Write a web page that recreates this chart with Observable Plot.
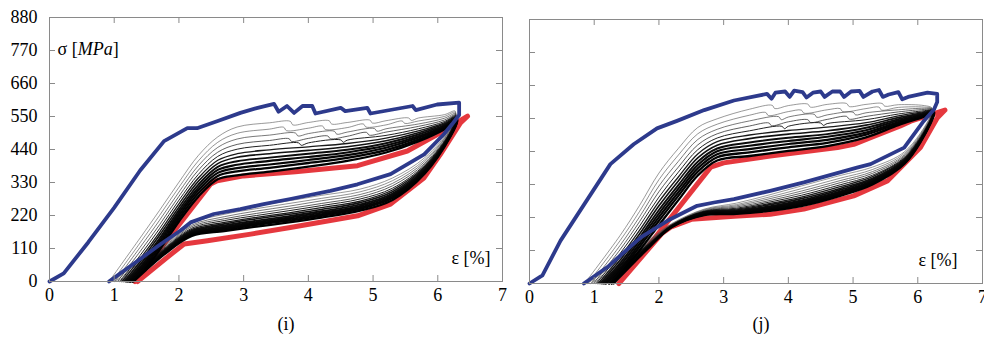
<!DOCTYPE html>
<html>
<head>
<meta charset="utf-8">
<script src="https://cdn.jsdelivr.net/npm/d3@7"></script>
<script src="https://cdn.jsdelivr.net/npm/@observablehq/plot@0.6"></script>
<style>
  body { margin: 0; background: #fff; }
  #wrap { position: relative; width: 984px; height: 349px; font-family: "Liberation Serif", Tinos, "Times New Roman", "DejaVu Serif", serif; }
  #wrap svg { position: absolute; top: 0; }
  #wrap svg text { font-family: "Liberation Serif", Tinos, "Times New Roman", "DejaVu Serif", serif !important; }
  .cap { position: absolute; top: 315px; font-size: 18px; line-height: 1; color: #000; transform: translateX(-50%); }
</style>
</head>
<body>
<div id="wrap"></div>
<script>
// Axis ticks shared by both panels
const strainTicks = [0, 1, 2, 3, 4, 5, 6, 7];
const stressTicks = [0, 110, 220, 330, 440, 550, 660, 770, 880];

// Strain stations at which the intermediate cycles are tabulated
const loadStrain = [1.4, 1.7, 2.0, 2.3, 2.6, 2.9, 3.4, 4.0, 4.6, 5.2, 5.7, 6.1];
const unloadStrain = [6.2, 5.8, 5.3, 4.8, 4.2, 3.7, 3.2, 2.7, 2.2, 1.8];

// ---- Panel (i) ----
// first cycle [strain %, stress MPa]
const iFirst = [[0,0],[0.22,27],[0.6,131],[1.0,246],[1.4,370],[1.77,468],[2.13,511],[2.28,511],[2.6,535],[2.95,562],[3.2,578],[3.47,592],[3.54,566],[3.67,585],[3.78,562],[3.91,585],[4.06,585],[4.11,560],[4.50,579],[4.57,568],[4.91,579],[4.96,560],[5.61,585],[5.66,571],[5.99,590],[6.33,596],[6.33,555],[6.22,524],[6.09,490],[5.79,424],[5.27,358],[4.76,324],[4.34,302],[3.72,275],[3.31,258],[2.95,241],[2.54,225],[2.18,197],[2.02,169],[1.72,125],[1.30,59],[0.92,0]];
// last cycle
const iLast = [[1.32,0],[2.49,325],[2.59,336],[3.0,352],[3.8,366],[4.76,386],[5.53,435],[6.04,496],[6.46,551],[6.35,529],[6.04,424],[5.79,346],[5.27,258],[4.76,219],[3.72,180],[3.11,158],[2.44,136],[2.08,125],[1.82,81],[1.36,0]];
// intermediate cycles
const iStart = [0.92,0.97,1.01,1.05,1.09,1.12,1.15,1.18,1.20,1.23,1.25,1.28];
const iLoad = [
  [145,237,331,420,482,515,529,530,530,536,545,556],
  [129,220,314,402,464,494,508,511,513,522,535,550],
  [114,204,298,386,447,475,488,493,498,509,525,544],
  [100,189,284,371,431,457,470,477,484,498,517,538],
  [87,176,271,357,417,441,454,462,471,487,509,533],
  [76,164,259,345,404,426,439,449,460,478,502,529],
  [66,154,248,334,393,414,426,437,449,469,496,525],
  [56,143,238,323,382,401,413,426,439,461,490,521],
  [47,134,229,313,372,389,402,415,430,453,484,518],
  [39,125,220,304,362,378,390,405,421,446,479,514],
  [30,116,210,294,352,367,379,395,412,438,473,511],
  [20,105,200,283,341,354,366,383,402,430,467,507]
];
// stress drops on the plateau of the early cycles
const iSteps = [
  [[3.72,534],[3.76,522],[4.32,536],[4.36,525],[4.95,538],[4.99,528],[5.55,545],[5.59,537]],
  [[3.62,514],[3.66,503],[4.22,518],[4.26,507],[4.85,525],[4.89,515],[5.45,535],[5.49,527]],
  [[3.80,495],[3.84,485],[4.40,501],[4.44,491],[5.02,510],[5.06,501]],
  [[3.70,476],[3.74,467],[4.30,485],[4.34,476],[4.90,497],[4.94,488]],
  [[3.85,462],[3.89,454],[4.50,472],[4.54,464]]
];
const iPeakStrain = [6.27,6.27,6.28,6.28,6.28,6.28,6.29,6.29,6.29,6.30,6.30,6.30];
const iPeakStress = [568,564,560,556,553,550,547,545,542,540,538,535];
const iUnload = [
  [515,413,345,308,287,269,252,232,200,130],
  [511,406,336,299,277,260,243,224,194,125],
  [508,400,327,290,269,251,235,216,188,121],
  [504,394,319,282,260,243,227,209,183,117],
  [501,389,311,275,253,236,220,203,178,114],
  [499,384,305,268,246,229,214,197,174,111],
  [496,380,299,263,240,224,209,192,170,108],
  [494,375,293,257,234,218,203,187,166,105],
  [492,372,288,252,229,213,198,182,163,103],
  [490,368,283,247,224,208,193,178,159,100],
  [487,364,278,242,219,203,189,173,156,98],
  [485,360,272,236,213,197,183,168,152,95]
];
const iEnd = [0.97,1.01,1.05,1.09,1.12,1.15,1.18,1.20,1.23,1.25,1.28,1.30];

// ---- Panel (j) ----
const jFirst = [[0,0],[0.2,27],[0.48,143],[0.84,262],[1.25,398],[1.61,464],[1.97,517],[2.28,542],[2.7,578],[3.16,610],[3.67,632],[3.74,616],[3.80,636],[3.95,640],[4.02,622],[4.09,643],[4.22,638],[4.28,620],[4.38,636],[4.50,640],[4.56,622],[4.68,640],[4.80,640],[4.86,622],[4.97,640],[5.10,642],[5.16,622],[5.30,640],[5.40,645],[5.46,622],[5.55,630],[5.70,638],[5.76,614],[5.85,622],[6.15,636],[6.30,632],[6.30,605],[6.25,580],[6.09,541],[5.79,453],[5.27,398],[5.06,386],[4.24,337],[3.72,309],[3.16,281],[2.85,270],[2.59,259],[2.13,209],[1.72,154],[1.20,54],[0.84,0]];
const jLast = [[1.38,0],[2.80,388],[3.0,402],[3.72,425],[4.76,453],[5.01,464],[5.27,486],[5.73,525],[5.89,541],[6.42,578],[6.30,552],[6.04,453],[5.53,342],[5.01,292],[4.24,248],[3.72,231],[3.16,224],[2.5,214],[2.18,188],[2.05,168],[1.38,0]];
const jStart = [0.85,0.90,0.95,0.99,1.03,1.06,1.09,1.12,1.15,1.18,1.23,1.27];
const jLoad = [
  [160,260,368,450,520,549,581,593,597,597,596,593],
  [143,240,346,428,499,531,561,573,579,583,587,588],
  [127,222,325,407,480,514,542,555,562,569,579,584],
  [113,206,306,388,462,499,525,539,547,557,572,580],
  [100,191,288,371,446,485,509,524,533,546,565,576],
  [88,177,273,355,432,473,495,510,521,536,559,573],
  [78,165,259,342,419,461,483,498,509,528,553,570],
  [68,153,245,328,406,450,470,486,498,519,548,567],
  [59,143,233,316,395,441,459,475,489,511,543,564],
  [49,132,221,304,384,431,448,465,479,503,538,562],
  [40,122,209,292,373,421,437,454,469,496,533,559],
  [30,110,195,278,360,410,425,442,458,487,528,556]
];
const jSteps = [
  [[3.75,594],[3.79,583],[4.30,598],[4.34,588],[4.90,600],[4.94,590],[5.45,600],[5.49,591]],
  [[3.65,570],[3.69,560],[4.20,578],[4.24,568],[4.80,583],[4.84,573],[5.40,588],[5.44,578]],
  [[3.85,556],[3.89,546],[4.40,564],[4.44,554],[5.00,571],[5.04,562]],
  [[3.70,535],[3.74,526],[4.30,546],[4.34,537],[4.90,557],[4.94,548]],
  [[3.90,524],[3.94,516],[4.50,535],[4.54,527]]
];
const jPeakStrain = [6.22,6.22,6.22,6.23,6.23,6.23,6.24,6.24,6.24,6.25,6.25,6.25];
const jPeakStress = [585,583,581,580,578,577,576,574,573,572,571,570];
const jUnload = [
  [560,440,388,360,325,295,268,248,200,138],
  [557,435,380,351,316,288,263,246,198,134],
  [554,430,373,343,308,282,259,244,197,131],
  [551,426,367,336,301,276,255,242,196,128],
  [548,422,361,329,294,271,251,241,194,125],
  [546,418,356,323,288,266,248,239,193,123],
  [544,415,351,317,283,262,245,238,192,120],
  [542,412,347,312,277,257,242,237,191,118],
  [540,409,343,307,273,254,240,236,191,116],
  [539,406,339,302,268,250,237,234,190,114],
  [537,403,335,297,263,246,235,230,189,112],
  [535,400,330,292,258,242,232,228,188,110]
];
const jEnd = [0.90,0.95,0.99,1.03,1.06,1.09,1.12,1.15,1.18,1.23,1.27,1.30];

// Assemble each intermediate cycle as one path: loading (with its plateau drops), peak, unloading
function cycles(start, load, steps, peakStrain, peakStress, unload, end) {
  const rows = [];
  start.forEach((e0, k) => {
    const loading = loadStrain.map((e, n) => [e, load[k][n]])
      .concat(steps[k] || [])
      .sort((a, b) => a[0] - b[0]);
    const pts = [[e0, 0]]
      .concat(loading)
      .concat([[peakStrain[k], peakStress[k]]])
      .concat(unloadStrain.map((e, n) => [e, unload[k][n]]))
      .concat([[end[k], 0]]);
    pts.forEach(([e, s]) => rows.push({e, s, k}));
  });
  return rows;
}

const BLUE = "#2d3a8c", RED = "#e3272e", FRAME = "#8a8a8a";
const SERIF = "'Liberation Serif', Tinos, 'Times New Roman', 'DejaVu Serif', serif";
// early cycles are drawn fine and grey, later ones heavier so they pack into a dark band
const cycleWidth = [0.6, 0.6, 0.7, 0.8, 1.0, 1.3, 1.6, 1.9, 2.1, 2.2, 2.3, 2.3];
const cycleColor = ["#555", "#4a4a4a", "#404040", "#333", "#222", "#1a1a1a", "#111", "#0c0c0c", "#080808", "#050505", "#030303", "#000"];

function panel(o) {
  const cyc = cycles(o.start, o.load, o.steps, o.peakStrain, o.peakStress, o.unload, o.end);
  const fw = o.width - o.ml - o.mr, fh = o.height - o.mt - o.mb;
  const thin = o.start.map((_, k) =>
    Plot.line(cyc.filter(d => d.k === k), {x: "e", y: "s", stroke: cycleColor[k], strokeWidth: cycleWidth[k], curve: "catmull-rom"}));
  const marks = [
    Plot.line(o.last, {x: d => d[0], y: d => d[1], stroke: RED, strokeWidth: 5, strokeLinejoin: "round", strokeOpacity: 0.92}),
    ...thin,
    Plot.line(o.first, {x: d => d[0], y: d => d[1], stroke: BLUE, strokeWidth: 3.8, strokeLinejoin: "round"}),
    Plot.frame({stroke: FRAME, strokeWidth: 1}),
    Plot.tickX(strainTicks, {x: d => d, insetTop: fh - 6, stroke: FRAME}),
    Plot.tickX(strainTicks, {x: d => d, insetBottom: fh - 6, stroke: FRAME}),
    Plot.tickY(stressTicks, {y: d => d, insetRight: fw - 6, stroke: FRAME}),
    Plot.tickY(stressTicks, {y: d => d, insetLeft: fw - 6, stroke: FRAME}),
    Plot.axisX(strainTicks, {tickSize: 0, tickPadding: 7, fontSize: 18, fontFamily: SERIF, fill: "#000", label: null, tickFormat: d => String(d)}),
    Plot.text(["ε [%]"], {frameAnchor: "bottom-right", dx: o.epsDx, dy: -18, textAnchor: "end", fontSize: 18, fontFamily: SERIF, fill: "#000"})
  ];
  if (o.yLabels) {
    marks.push(Plot.axisY(stressTicks, {tickSize: 0, tickPadding: 12, fontSize: 18, fontFamily: SERIF, fill: "#000", label: null}));
    marks.push(Plot.text(["σ [MPa]"], {frameAnchor: "top-left", dx: 8, dy: 25, textAnchor: "start", fontSize: 18, fontFamily: SERIF, fill: "#000"}));
  }
  const svg = Plot.plot({
    width: o.width, height: o.height,
    marginLeft: o.ml, marginRight: o.mr, marginTop: o.mt, marginBottom: o.mb,
    x: {domain: [0, 7], label: null, axis: null},
    y: {domain: [0, 880], label: null, axis: null},
    style: {fontFamily: SERIF, fontSize: "18px", color: "#000", background: "transparent", overflow: "visible"},
    marks
  });
  d3.select(svg).attr("font-family", SERIF);
  // italic unit inside the stress label
  d3.select(svg).selectAll("text").filter(function () { return this.textContent === "σ [MPa]"; })
    .each(function () {
      const t = d3.select(this);
      t.text(null);
      t.append("tspan").text("σ [");
      t.append("tspan").attr("font-style", "italic").text("MPa");
      t.append("tspan").text("]");
    });
  svg.style.left = o.left + "px";
  return svg;
}

const wrap = document.getElementById("wrap");
wrap.appendChild(panel({
  left: 0, width: 510, height: 320, ml: 49, mr: 8, mt: 17, mb: 39,
  first: iFirst, last: iLast, start: iStart, load: iLoad, steps: iSteps, peakStrain: iPeakStrain, peakStress: iPeakStress,
  unload: iUnload, end: iEnd, yLabels: true, epsDx: -12
}));
wrap.appendChild(panel({
  left: 480, width: 504, height: 322, ml: 49, mr: 2, mt: 19, mb: 39,
  first: jFirst, last: jLast, start: jStart, load: jLoad, steps: jSteps, peakStrain: jPeakStrain, peakStress: jPeakStress,
  unload: jUnload, end: jEnd, yLabels: false, epsDx: -25
}));

for (const [label, x] of [["(i)", 286], ["(j)", 761]]) {
  const c = document.createElement("div");
  c.className = "cap";
  c.style.left = x + "px";
  c.textContent = label;
  wrap.appendChild(c);
}
</script>
</body>
</html>
